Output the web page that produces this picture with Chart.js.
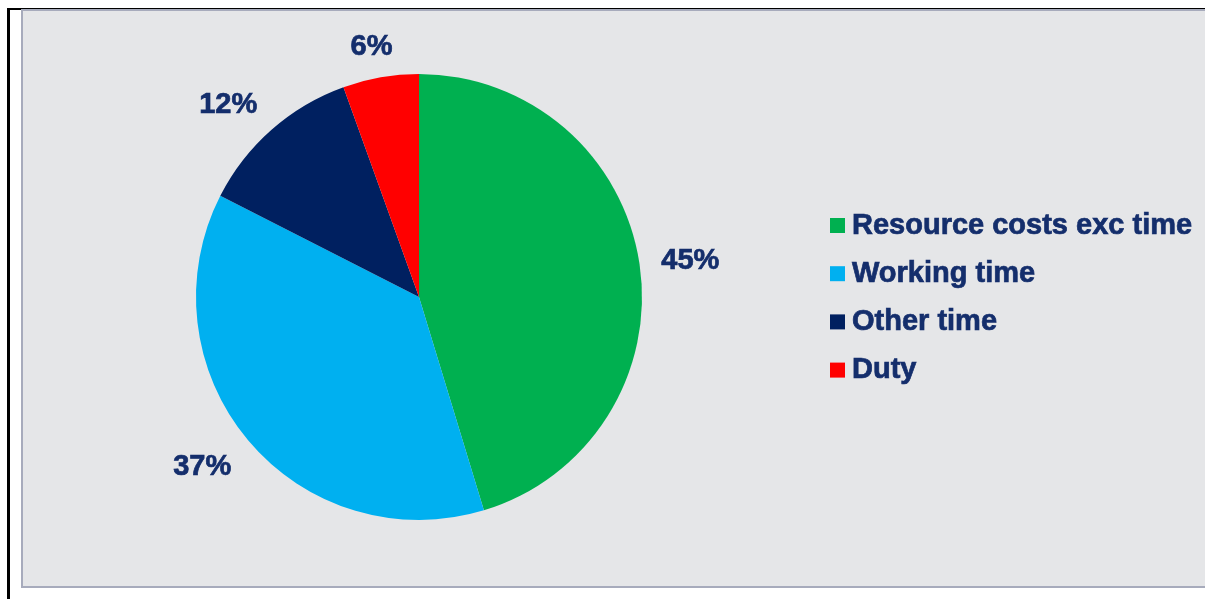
<!DOCTYPE html>
<html>
<head>
<meta charset="utf-8">
<title>Cost breakdown</title>
<script src="https://cdn.jsdelivr.net/npm/chart.js@4/dist/chart.umd.min.js"></script>
<style>
  html, body { margin: 0; padding: 0; background: #ffffff; }
  body { position: relative; width: 1205px; height: 599px; overflow: hidden; }
  #frameLeft { position: absolute; left: 7px; top: 8px; width: 3px; height: 591px; background: #000; }
  #frameTop { position: absolute; left: 7px; top: 8px; width: 1198px; height: 2px; background: #000; }
  #panel { position: absolute; left: 21px; top: 9px; width: 1200px; height: 575px;
           background: #e5e6e8; border: 2px solid #a7abbc; }
  #chart { position: absolute; left: 0; top: 0; }
</style>
</head>
<body>
<div id="frameLeft"></div>
<div id="frameTop"></div>
<div id="panel"></div>
<canvas id="chart" width="1205" height="599"></canvas>
<script>
// Share of total cost by component (percent)
const categories = ['Resource costs exc time', 'Working time', 'Other time', 'Duty'];
const shares = [45.3, 37.2, 12.0, 5.5];
const sliceColors = ['#00b050', '#00b0f0', '#002060', '#ff0000'];

const TEXT_COLOR = '#142e6c';
const TEXT_FONT = 'bold 29px "Liberation Sans", Arial, sans-serif';
const CAP_HEIGHT = 20.8;

function drawText(ctx, text, x, y) {
  ctx.fillText(text, x, y);
  ctx.strokeText(text, x, y);
}

// Percentage labels outside each slice: an anchor point on the slice's mid-angle,
// with the text box hung off it on the side facing away from the pie
const outsideLabels = {
  id: 'outsideLabels',
  afterDatasetsDraw(chart) {
    const ctx = chart.ctx;
    const meta = chart.getDatasetMeta(0);
    const values = chart.data.datasets[0].data;
    const total = values.reduce((a, b) => a + b, 0);
    ctx.save();
    ctx.font = TEXT_FONT;
    ctx.fillStyle = TEXT_COLOR;
    ctx.strokeStyle = TEXT_COLOR;
    ctx.lineWidth = 0.7;
    ctx.textAlign = 'center';
    ctx.textBaseline = 'alphabetic';
    const gap = 22;
    const clamp = v => Math.max(-1, Math.min(1, v));
    meta.data.forEach((arc, i) => {
      const p = arc.getProps(['x', 'y', 'startAngle', 'endAngle', 'outerRadius'], true);
      const mid = (p.startAngle + p.endAngle) / 2;
      const text = Math.round(values[i] / total * 100) + '%';
      const hw = ctx.measureText(text).width / 2;
      const hh = CAP_HEIGHT / 2 + 0.6;
      const cx = Math.cos(mid), cy = Math.sin(mid);
      const R = p.outerRadius + gap;
      const ax = p.x + cx * R, ay = p.y + cy * R;
      const bx = ax + hw * clamp(cx * 1.5);
      const by = ay + hh * clamp(cy * 1.5);
      drawText(ctx, text, bx, by + CAP_HEIGHT / 2);
    });
    ctx.restore();
  }
};

// Legend on the right: square markers followed by category names
const sideLegend = {
  id: 'sideLegend',
  afterDraw(chart) {
    const ctx = chart.ctx;
    const labels = chart.data.labels;
    const colors = chart.data.datasets[0].backgroundColor;
    const x0 = 830, y0 = 218, box = 15, step = 48.2;
    ctx.save();
    ctx.font = TEXT_FONT;
    ctx.textAlign = 'left';
    ctx.textBaseline = 'alphabetic';
    ctx.lineWidth = 0.7;
    labels.forEach((lab, i) => {
      const y = y0 + i * step;
      ctx.fillStyle = colors[i];
      ctx.fillRect(x0, y, box, box);
      ctx.fillStyle = TEXT_COLOR;
      ctx.strokeStyle = TEXT_COLOR;
      drawText(ctx, lab, x0 + 22, y + 15.5);
    });
    ctx.restore();
  }
};

new Chart(document.getElementById('chart'), {
  type: 'pie',
  data: {
    labels: categories,
    datasets: [{
      data: shares,
      backgroundColor: sliceColors,
      borderWidth: 0
    }]
  },
  options: {
    responsive: false,
    animation: false,
    layout: { padding: { left: 196, right: 563, top: 74, bottom: 79 } },
    plugins: {
      legend: { display: false },
      tooltip: { enabled: false }
    }
  },
  plugins: [outsideLabels, sideLegend]
});
</script>
</body>
</html>
